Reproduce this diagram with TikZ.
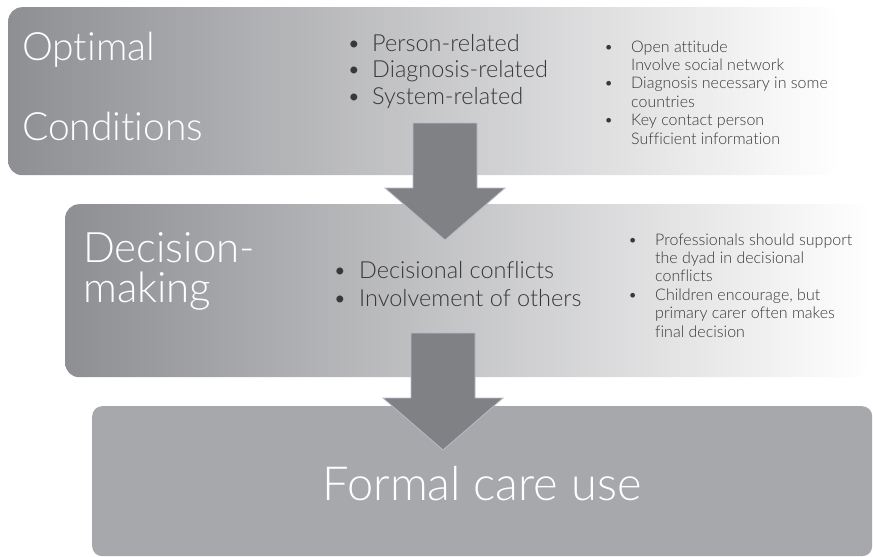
\documentclass[tikz,border=0pt]{standalone}
\usepackage{fontspec}
\setmainfont{Lato}[UprightFont=* Light,Ligatures=NoCommon]
\usetikzlibrary{positioning}
\definecolor{stagedark}{HTML}{8E8F93}
\definecolor{stagemid}{HTML}{D2D3D5}
\definecolor{stageflat}{HTML}{A7A8AB}
\definecolor{arrowgray}{HTML}{808185}
\definecolor{arrowrim}{HTML}{B9BCCA}
\definecolor{listtext}{HTML}{383838}
\tikzset{
  stage/.style={rounded corners=14pt,anchor=north west,inner sep=0pt,
    left color=stagedark,middle color=stagemid,right color=white},
  laststage/.style={rounded corners=10pt,anchor=north west,inner sep=0pt,fill=stageflat},
  title/.style={anchor=base west,text=white,inner sep=0pt,align=left},
  points/.style={anchor=base west,inner sep=0pt,text=listtext},
  blockarrow/.style={fill=arrowgray,draw=arrowrim,line width=0.8pt}
}
% bullet list: #1 bullet column, #2 size, #3 skip, #4 rows
\newcommand\pointlist[4]{{\fontsize{#2}{#3}\selectfont
  \begin{tabular}[t]{@{}p{#1}@{}l@{}}#4\end{tabular}}}

\begin{document}
\begin{tikzpicture}[x=1pt,y=-1pt]
  \useasboundingbox (0,0) rectangle (873,557);
  % stages
  \node[stage,minimum width=832pt,minimum height=168pt] (optimal) at (8,7) {};
  \node[stage,minimum width=805pt,minimum height=173pt] (decision) at (65,204) {};
  \node[laststage,minimum width=780pt,minimum height=150pt] (formal) at (92,406) {};
  % titles (base = last line)
  \node[title,font=\fontsize{39}{80}\selectfont] (optimaltitle) at (22,140) {Optimal\\Conditions};
  \node[title,font=\fontsize{42}{40}\selectfont] (decisiontitle) at (83,302) {Decision-\\making};
  \node[anchor=base,text=white,inner sep=0pt,font=\fontsize{47}{50}\selectfont]
    (formaltitle) at (482,500) {Formal care use};
  % factor lists
  \node[points] (factors) at (347,51) {\pointlist{25pt}{23.5}{26.5}{%
    \textbullet & Person-related\\
    \textbullet & Diagnosis-related\\
    \textbullet & System-related}};
  \node[points] (conditions) at (604,52) {\pointlist{27pt}{16}{18.4}{%
    \textbullet & Open attitude\\
                & Involve social network\\
    \textbullet & Diagnosis necessary in some\\
                & countries\\
    \textbullet & Key contact person\\
                & Sufficient information}};
  \node[points] (issues) at (333,278) {\pointlist{26pt}{23.5}{28}{%
    \textbullet & Decisional conflicts\\
    \textbullet & Involvement of others}};
  \node[points] (findings) at (628,245) {\pointlist{27pt}{16}{18.4}{%
    \textbullet & Professionals should support\\
                & the dyad in decisional\\
                & conflicts\\
    \textbullet & Children encourage, but\\
                & primary carer often makes\\
                & final decision}};
  % arrows between stages
  \coordinate (a1) at (445,123);
  \coordinate (a2) at (443,333);
  \foreach \a in {a1,a2}
    \draw[blockarrow,shift={(\a)}] (-32,0) -- (32,0) -- (32,65) -- (60,65)
      -- (0,117) -- (-60,65) -- (-32,65) -- cycle;
\end{tikzpicture}
\end{document}
